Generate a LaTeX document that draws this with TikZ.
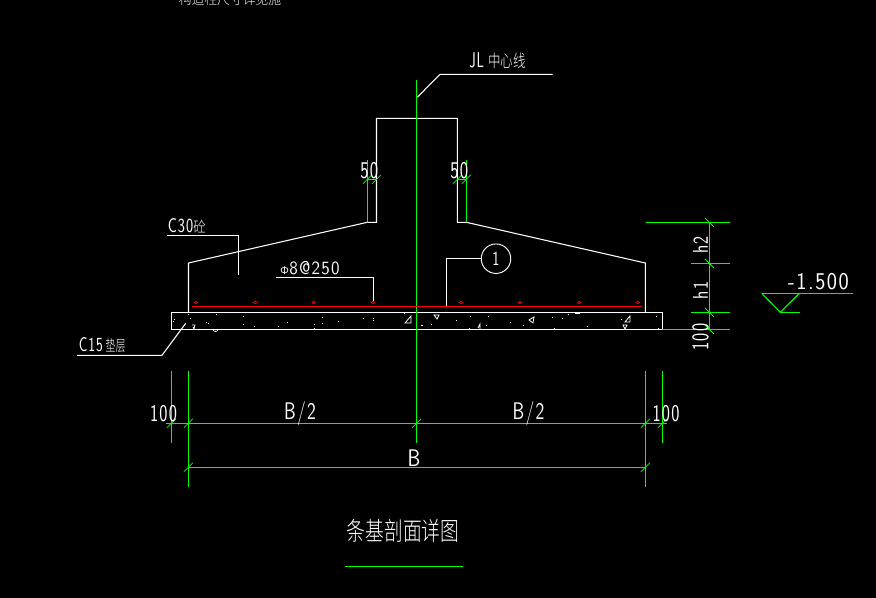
\documentclass[tikz,border=0pt]{standalone}
\usepackage{graphicx}
\usepackage{fontspec}
\newfontfamily\cjk{Noto Sans CJK SC Light}
\newfontfamily\grk{Open Sans}
\setsansfont{Latin Modern Sans}[LetterSpace=7]
\newcommand{\nar}[2]{\scalebox{#1}[1]{#2}}
\definecolor{cadgreen}{RGB}{0,255,0}
\tikzset{
  wl/.style={draw=white,line width=0.8pt},
  gl/.style={draw=cadgreen,line width=0.85pt},
  lab/.style={text=white,inner sep=0pt,font=\sffamily\fontsize{18pt}{18pt}\selectfont},
  tick/.style={draw=cadgreen,line width=0.55pt},
  rdot/.style={draw=red,line width=0.5pt},
}
\begin{document}
\begin{tikzpicture}[x=0.75pt,y=-0.75pt]
\fill[black] (0,0) rectangle (876,598);
\useasboundingbox (0,0) rectangle (876,598);
% clipped note at top edge
\begin{scope}
\clip (0,0) rectangle (876,598);
\node[text=white,inner sep=0pt,anchor=center] (note) at (230,0) {\cjk\fontsize{9.6pt}{9.6pt}\selectfont 构造柱尺寸详见施};
\end{scope}
% foundation outline
\draw[wl] (367.3,222.3) -- (376.5,222.3) -- (376.5,118.3) -- (457.3,118.3) -- (457.3,222.3) -- (466.3,222.3) -- (645.3,263) -- (645.3,312.3);
\draw[wl] (367.3,222.3) -- (188.5,263) -- (188.5,312.3);
\draw[wl] (171.3,312.3) rectangle (662.3,329.3);
% speckles
\foreach \X/\Y in {68/58,76/68,28/72,25/78,122/82,130/85,152/58,235/64,235/88,268/94,340/94,367/82,470/67,472/85,448/87,447/98,520/78,595/70,625/68,625/75,718/55,770/90}
  \fill[white] ({165+\X/3},{295+\Y/3}) rectangle +(0.9,0.9);
\foreach \X/\Y in {137/75,181/64,235/64,34/91,64/86,229/91,301/82,340/90,427/67,457/70,475/58,532/92,634/72,737/62,745/98,178/100,433/100}
  \fill[white] ({410+\X/3},{295+\Y/3}) rectangle +(0.9,0.9);
\fill[white] (575,312.5) rectangle (580,314.5);
\draw[white,line width=0.6pt] (411,316) -- (411,323) -- (405,323) -- cycle;
\draw[white,line width=0.6pt] (434,315) -- (439,315) -- (437,319) -- cycle;
\draw[white,line width=0.6pt] (529,320) -- (534,317) -- (533,323) -- cycle;
\draw[white,line width=0.6pt] (630,316) -- (630,322) -- (625,322) -- cycle;
\draw[white,line width=0.6pt] (623,325) -- (627,325) -- (625,329) -- cycle;
\draw[white,line width=0.6pt] (478,328) -- (480,324) -- (480,329);
\draw[white,line width=0.6pt] (192,325) -- (195,325) -- (194,329) -- (193,327);
\draw[white,line width=0.6pt] (213,329) arc (180:0:2.5);
% green lines
\draw[gl] (416.5,80) -- (416.5,443);
\draw[gl] (367.3,160) -- (367.3,222.3);
\draw[gl] (466.3,160) -- (466.3,222.3);
\draw[gl] (367.3,179.3) -- (376.5,179.3);
\draw[gl] (457.3,179.3) -- (466.3,179.3);
\draw[gl] (646,222.3) -- (730,222.3);
\draw[gl] (691,263.3) -- (730,263.3);
\draw[gl] (691,312.3) -- (730,312.3);
\draw[gl] (662.3,329.3) -- (730,329.3);
\draw[gl] (709.3,222.3) -- (709.3,329.3);
\draw[gl] (761.7,293.3) -- (852.7,293.3);
\draw[gl] (761.7,293.3) -- (780.3,312.3) -- (799.5,293.3);
\draw[gl] (780.3,312.3) -- (800,312.3);
\draw[gl] (171.3,371) -- (171.3,443);
\draw[gl] (662.3,371) -- (662.3,443);
\draw[gl] (188.3,371) -- (188.3,487);
\draw[gl] (645.3,371) -- (645.3,487);
\draw[gl] (166,423.3) -- (667,423.3);
\draw[gl] (188.3,467.3) -- (645.3,467.3);
\draw[gl] (345,566.3) -- (462.7,566.3);
% dimension ticks
\foreach \p in {(367.3,179.3),(376.5,179.3),(457.3,179.3),(466.3,179.3),(171.3,423.3),(188.3,423.3),(416.5,423.3),(645.3,423.3),(662.3,423.3),(188.3,467.3),(645.3,467.3)}
  \draw[tick] \p ++(-4.5,4.5) -- ++(9,-9);
\foreach \p in {(709.3,222.3),(709.3,263.3),(709.3,312.3),(709.3,329.3)}
  \draw[tick] \p ++(-4.5,-4.5) -- ++(9,9);
% rebar
\draw[red,line width=0.9pt] (192,306.3) -- (641.7,306.3);
\foreach \x in {196,255,313.7,373,461,520,579,638}
  \draw[rdot] (\x,302.5) ellipse (1.8 and 1.2);
% leaders
\draw[wl] (417.3,97.3) -- (440,74.3) -- (552.7,74.3);
\draw[wl] (167.3,235.3) -- (238.3,235.3) -- (238.3,274.7);
\draw[wl] (276,277.3) -- (373.3,277.3) -- (373.3,301);
\draw[wl] (77,355.3) -- (162,355.3) -- (185.7,323.3);
\node[circle,draw=white,line width=0.7pt,minimum size=29.5*0.75pt,inner sep=0pt,text=white,font=\sffamily\fontsize{15pt}{15pt}\selectfont] (c1) at (496,258.7) {\nar{.75}{1}};
\draw[wl] (446.3,306) -- (446.3,258.7) -- (c1.west);
% labels
\node[lab,anchor=west] (t50a) at (360,171) {\nar{.74}{50}};
\node[lab,anchor=west] (t50b) at (450,171) {\nar{.74}{50}};
\node[lab,anchor=west] (jl) at (469,61) {\fontsize{16pt}{16pt}\selectfont\nar{.68}{JL}\hspace{3pt}\cjk\fontsize{13pt}{13pt}\selectfont\nar{.72}{中心线}};
\node[lab,anchor=west] (c30) at (167.5,226) {\fontsize{15pt}{15pt}\selectfont\nar{.76}{C30}\cjk\fontsize{11pt}{11pt}\selectfont\nar{.85}{砼}};
\node[lab,anchor=west] (rebar) at (280,268) {\grk\fontsize{8pt}{8pt}\selectfont Φ\hspace{0.5pt}\sffamily\fontsize{14pt}{14pt}\selectfont\nar{.93}{8@250}};
\node[lab,anchor=west] (c15) at (78.5,345.5) {\fontsize{15pt}{15pt}\selectfont\nar{.72}{C15}\hspace{2pt}\cjk\fontsize{11.5pt}{11.5pt}\selectfont\nar{.65}{垫层}};
\node[lab,anchor=center] (d1) at (163.5,414) {\nar{.72}{100}};
\node[lab,anchor=center] (d2) at (300,414) {\nar{.78}{B/2}};
\node[lab,anchor=center] (d3) at (528.5,414) {\nar{.78}{B/2}};
\node[lab,anchor=center] (d4) at (666,414) {\nar{.72}{100}};
\node[lab,anchor=center] (d5) at (414,458) {\nar{.85}{B}};
\node[lab,anchor=center] (lev) at (818.5,281.5) {\nar{.9}{-1.500}};
\node[lab,anchor=center,rotate=90] (h2) at (700.5,245) {\fontsize{16pt}{16pt}\selectfont\nar{.8}{h2}};
\node[lab,anchor=center,rotate=90] (h1) at (700.5,290.5) {\fontsize{16pt}{16pt}\selectfont\nar{.8}{h1}};
\node[lab,anchor=center,rotate=90] (d6) at (700.5,337) {\nar{.72}{100}};
\node[text=white,inner sep=0pt,anchor=center] (title) at (403,530.5) {\cjk\fontsize{19pt}{19pt}\selectfont\nar{.74}{条基剖面详图}};
\end{tikzpicture}
\end{document}
